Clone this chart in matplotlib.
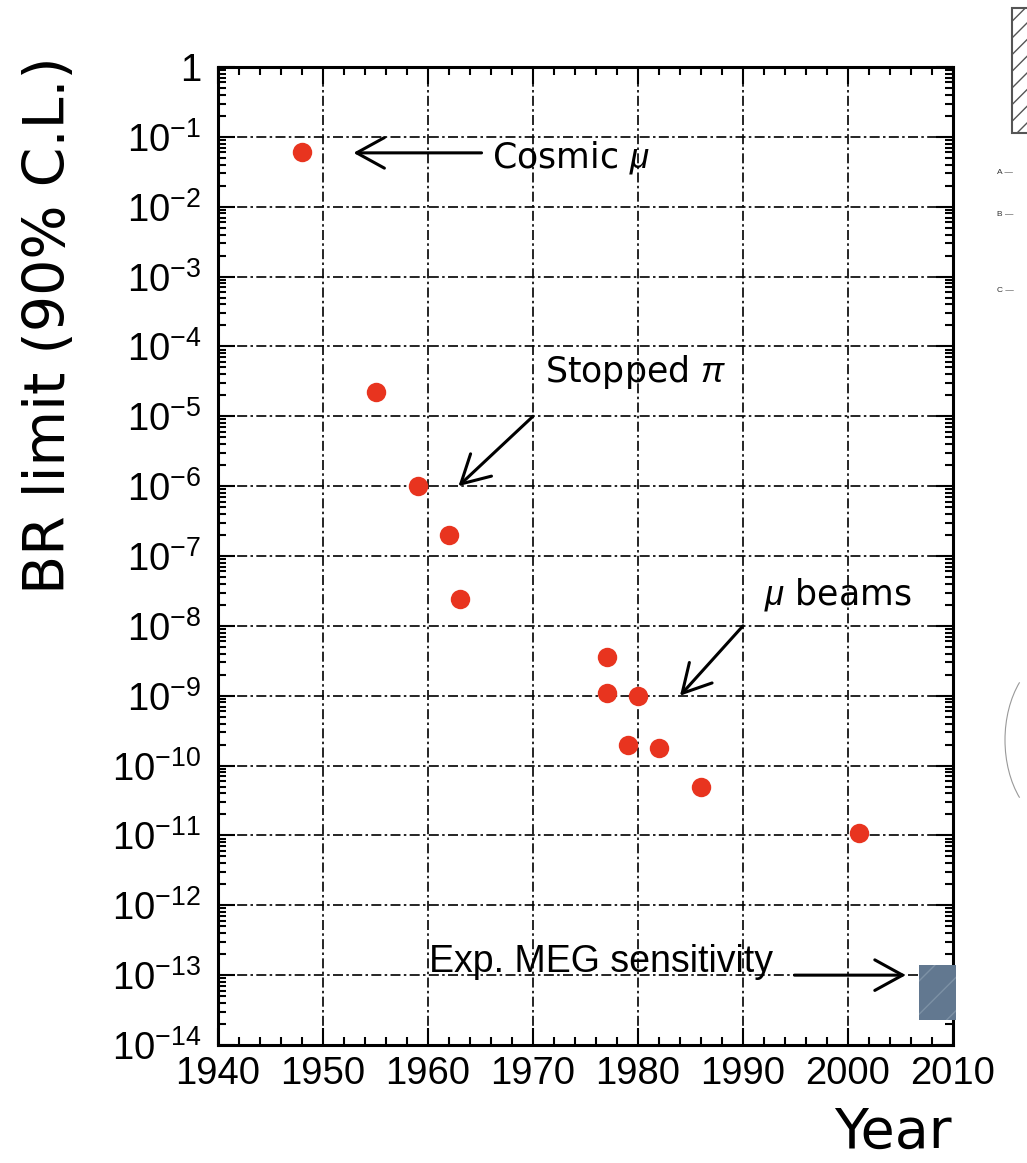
import numpy as np
import matplotlib
matplotlib.use("Agg")
import matplotlib.pyplot as plt
import matplotlib.ticker as ticker
from matplotlib.patches import Rectangle, Arc

plt.rcParams['font.family'] = ['Liberation Sans', 'DejaVu Sans']
plt.rcParams['mathtext.fontset'] = 'custom'
plt.rcParams['mathtext.rm'] = 'Liberation Sans'
plt.rcParams['mathtext.it'] = 'Liberation Sans:italic'
plt.rcParams['hatch.linewidth'] = 1.0

# mu -> e gamma upper limits vs year
years = [1948, 1955, 1959, 1962, 1963, 1977, 1977, 1979, 1980, 1982, 1986, 2001]
limits = [6e-2, 2.2e-5, 1e-6, 2e-7, 2.4e-8, 3.6e-9, 1.1e-9, 2.0e-10, 1.0e-9,
          1.8e-10, 5.0e-11, 1.1e-11]

# expected MEG reach (shaded box)
meg_years = [2006.8, 2010.3]
meg_br = [2.3e-14, 1.4e-13]

xmin, xmax = 1940, 2010
ymin, ymax = 1e-14, 1

fig = plt.figure(figsize=(10.27, 11.63), dpi=100)
ax = fig.add_axes([218/1027, 1-1045/1163, (953-218)/1027, (1045-67)/1163])

ax.set_yscale('log')
ax.set_xlim(xmin, xmax)
ax.set_ylim(ymin, ymax)

ax.plot(years, limits, 'o', ms=14, color='#e8341f', mec='none', zorder=4)

ax.add_patch(Rectangle((meg_years[0], meg_br[0]), meg_years[1]-meg_years[0],
                       meg_br[1]-meg_br[0], facecolor='#627890',
                       edgecolor='#7d91a5', lw=0, hatch='/', zorder=5,
                       clip_on=False))

# ticks / grid
ax.xaxis.set_major_locator(ticker.MultipleLocator(10))
ax.xaxis.set_minor_locator(ticker.MultipleLocator(2))
ax.yaxis.set_major_locator(ticker.LogLocator(base=10, numticks=30))
ax.yaxis.set_minor_locator(ticker.LogLocator(base=10, subs=np.arange(2, 10), numticks=200))


def ylab(v, pos):
    e = int(round(np.log10(v)))
    if e == 0:
        return '1'
    return r'$\mathregular{10^{%d}}$' % e


ax.yaxis.set_major_formatter(ticker.FuncFormatter(ylab))
ax.yaxis.set_minor_formatter(ticker.NullFormatter())

ax.tick_params(which='both', direction='in', top=True, right=True, width=1.5)
ax.tick_params(which='major', length=12)
ax.tick_params(which='minor', length=6)
ax.tick_params(axis='x', labelsize=27.5, pad=8)
ax.tick_params(axis='y', labelsize=27.5, pad=12)
for s in ax.spines.values():
    s.set_linewidth(2.2)

ax.grid(which='major', color='k', lw=1.2, ls=(0, (6, 2, 1.5, 2)))

# annotations
arr = dict(arrowstyle='->,head_length=1.0,head_width=0.55', lw=2.2,
           color='k', shrinkA=0, shrinkB=0, mutation_scale=20)
ann = dict(family='DejaVu Sans', fontsize=25, va='baseline', ha='left')

ax.annotate('', xy=(1952.9, 5.9e-2), xytext=(1965.1, 5.9e-2), arrowprops=arr)
ax.text(1966.1, 3.7e-2, r'Cosmic $\mu$', **ann)

ax.annotate('', xy=(1962.9, 1e-6), xytext=(1970, 1e-5), arrowprops=arr)
ax.text(1971.1, 3.1e-5, r'Stopped $\pi$', **ann)

ax.annotate('', xy=(1984, 1e-9), xytext=(1990, 1e-8), arrowprops=arr)
ax.text(1992.0, 2.0e-8, r'$\mu$ beams', **ann)

ax.annotate('', xy=(2005.5, 1e-13), xytext=(1994.9, 1e-13), arrowprops=arr)
ax.text(1960.1, 1.1e-13, 'Exp. MEG sensitivity', fontsize=27, va='baseline', ha='left')

fig.text(50/1027, 1-325/1163, 'BR limit (90% C.L.)', family='DejaVu Sans',
         fontsize=41, rotation=90, ha='center', va='center')
fig.text(952/1027, 1-1148/1163, 'Year', family='DejaVu Sans', fontsize=40,
         ha='right', va='baseline')

# edge of the neighbouring panel
fig.add_artist(Rectangle((1012/1027, 1-133/1163), 0.05, 125/1163,
                         transform=fig.transFigure, facecolor='white',
                         edgecolor='#555555', lw=1.5, hatch='//'))
for lab, yp in [('A —', 172), ('B —', 214), ('C —', 290)]:
    fig.text(997/1027, 1-yp/1163, lab, fontsize=6, color='#333333',
             va='center', ha='left')
fig.add_artist(Arc((1060, 1163-740), 110, 170, theta1=125, theta2=235,
                   transform=None, color='#999999', lw=0.8))

fig.savefig('out.png', dpi=100)
